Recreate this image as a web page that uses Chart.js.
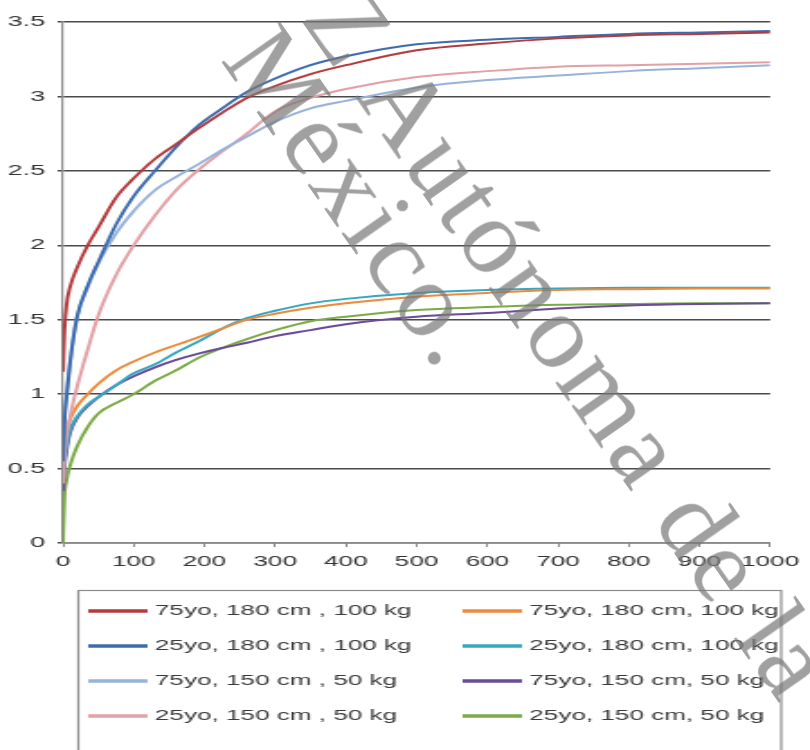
<!DOCTYPE html>
<html>
<head>
<meta charset="utf-8">
<script src="https://cdn.jsdelivr.net/npm/chart.js@4.4.1/dist/chart.umd.min.js"></script>
<style>
  html, body { margin: 0; padding: 0; background: #fff; overflow: hidden; }
  #wrap { position: relative; width: 810px; height: 750px; overflow: hidden; }
  #c { position: absolute; left: 0; top: 0; }
  #mark {
    position: absolute; left: 366px; top: -28px;
    font-family: "Liberation Serif", "DejaVu Serif", serif;
    font-size: 108px; line-height: 89px; letter-spacing: 4px; white-space: pre;
    color: rgba(120, 120, 120, 0.7);
    transform-origin: 0 0; transform: rotate(55deg);
    pointer-events: none;
  }
  #mark .second { margin-left: -12px; }
</style>
</head>
<body>
<div id="wrap">
  <!-- the source picture is stretched sideways, so draw narrow and widen with css -->
  <canvas id="c" width="450" height="750" style="width:810px;height:750px"></canvas>
  <div id="mark"><div>Z Autónoma de la</div><div class="second">México.</div></div>
</div>
<script>
const xValues = [0, 2, 5, 10, 20, 35, 50, 75, 100, 130, 160, 190, 225, 260, 300, 350, 400, 500, 600, 700, 800, 900, 1000];

const seriesLabels = [
  '75yo, 180 cm , 100 kg',
  '25yo, 180 cm , 100 kg',
  '75yo, 150 cm , 50 kg',
  '25yo, 150 cm , 50 kg',
  '75yo, 180 cm, 100 kg',
  '25yo, 180 cm, 100 kg',
  '75yo, 150 cm, 50 kg',
  '25yo, 150 cm, 50 kg'
];

const seriesColors = ['#b33b3d', '#3d6cae', '#97b3da', '#e2a0a7', '#ec8b3c', '#37a6c2', '#6a4b9b', '#7bab47'];

const darkRed   = [1.15, 1.42, 1.60, 1.72, 1.85, 2.00, 2.12, 2.32, 2.45, 2.58, 2.68, 2.78, 2.89, 2.99, 3.07, 3.15, 3.21, 3.31, 3.355, 3.39, 3.41, 3.42, 3.43];
const darkBlue  = [0.55, 0.80, 0.98, 1.21, 1.52, 1.73, 1.89, 2.14, 2.33, 2.50, 2.66, 2.80, 2.92, 3.03, 3.12, 3.21, 3.27, 3.35, 3.38, 3.40, 3.42, 3.43, 3.44];
const lightBlue = [0.60, 0.85, 1.00, 1.22, 1.52, 1.72, 1.88, 2.08, 2.23, 2.37, 2.46, 2.54, 2.64, 2.73, 2.83, 2.92, 2.97, 3.06, 3.11, 3.14, 3.17, 3.19, 3.21];
const pink      = [0.40, 0.58, 0.72, 0.85, 1.05, 1.30, 1.53, 1.80, 2.00, 2.20, 2.37, 2.50, 2.63, 2.75, 2.90, 2.99, 3.05, 3.13, 3.17, 3.20, 3.21, 3.22, 3.23];
const orange    = [0.60, 0.68, 0.75, 0.83, 0.92, 1.00, 1.07, 1.16, 1.22, 1.28, 1.33, 1.38, 1.44, 1.50, 1.54, 1.58, 1.61, 1.655, 1.68, 1.70, 1.705, 1.71, 1.71];
const cyan      = [0.45, 0.55, 0.65, 0.76, 0.85, 0.93, 0.98, 1.06, 1.14, 1.20, 1.28, 1.35, 1.44, 1.51, 1.56, 1.61, 1.64, 1.68, 1.70, 1.71, 1.715, 1.715, 1.715];
const purple    = [0.35, 0.50, 0.62, 0.74, 0.84, 0.92, 0.98, 1.06, 1.12, 1.18, 1.23, 1.27, 1.31, 1.345, 1.39, 1.43, 1.47, 1.52, 1.545, 1.575, 1.595, 1.605, 1.61];
const green     = [0.00, 0.30, 0.42, 0.52, 0.65, 0.78, 0.87, 0.94, 1.00, 1.09, 1.16, 1.24, 1.31, 1.37, 1.43, 1.49, 1.52, 1.565, 1.585, 1.60, 1.605, 1.61, 1.61];

const allSeries = [darkRed, darkBlue, lightBlue, pink, orange, cyan, purple, green];

const FONT = '"Liberation Sans", Arial, Helvetica, sans-serif';
Chart.defaults.font.family = FONT;

// legend sits in a box under the axis, two columns, filled top to bottom
const legendBox = {
  id: 'legendBox',
  afterDraw(chart) {
    const ctx = chart.ctx;
    ctx.save();
    ctx.strokeStyle = '#8c8c8c';
    ctx.lineWidth = 1.2;
    ctx.strokeRect(43.5, 590.5, 390.5, 220);
    ctx.font = '14.5px ' + FONT;
    ctx.textBaseline = 'middle';
    ctx.textAlign = 'left';
    chart.data.datasets.forEach((ds, i) => {
      const x = i < 4 ? 49 : 257;
      const y = 611 + (i % 4) * 35;
      ctx.strokeStyle = ds.borderColor;
      ctx.lineWidth = 3.5;
      ctx.beginPath();
      ctx.moveTo(x, y);
      ctx.lineTo(x + 33, y);
      ctx.stroke();
      ctx.fillStyle = '#3a3a3a';
      ctx.fillText(ds.label, x + 37, y);
    });
    ctx.restore();
  }
};

const plainNumber = (v) => String(v);

new Chart(document.getElementById('c'), {
  type: 'line',
  data: {
    datasets: allSeries.map((vals, i) => ({
      label: seriesLabels[i],
      data: vals.map((v, j) => ({ x: xValues[j], y: v })),
      borderColor: seriesColors[i],
      backgroundColor: seriesColors[i],
      borderWidth: 2,
      pointRadius: 0,
      fill: false,
      cubicInterpolationMode: 'monotone'
    }))
  },
  options: {
    responsive: false,
    animation: false,
    devicePixelRatio: 1,
    events: [],
    layout: { padding: { top: 22, right: 15, bottom: 177, left: 0 } },
    plugins: { legend: { display: false }, tooltip: { enabled: false } },
    scales: {
      x: {
        type: 'linear',
        min: 0,
        max: 1000,
        ticks: { stepSize: 100, autoSkip: false, maxRotation: 0, color: '#333', padding: 6, font: { size: 14.5 }, callback: plainNumber },
        grid: { drawOnChartArea: false, drawTicks: true, tickLength: 4, color: '#8a8a8a' },
        border: { color: '#8a8a8a', width: 1.5 },
        afterFit(s) { s.height = 30; }
      },
      y: {
        min: 0,
        max: 3.5,
        ticks: { stepSize: 0.5, color: '#333', padding: 7, font: { size: 15 }, callback: plainNumber },
        grid: { color: '#4a4a4a', lineWidth: 1.5, tickLength: 3 },
        border: { color: '#8a8a8a', width: 1.2 },
        afterFit(s) { s.width = 35; }
      }
    }
  },
  plugins: [legendBox]
});
</script>
</body>
</html>
